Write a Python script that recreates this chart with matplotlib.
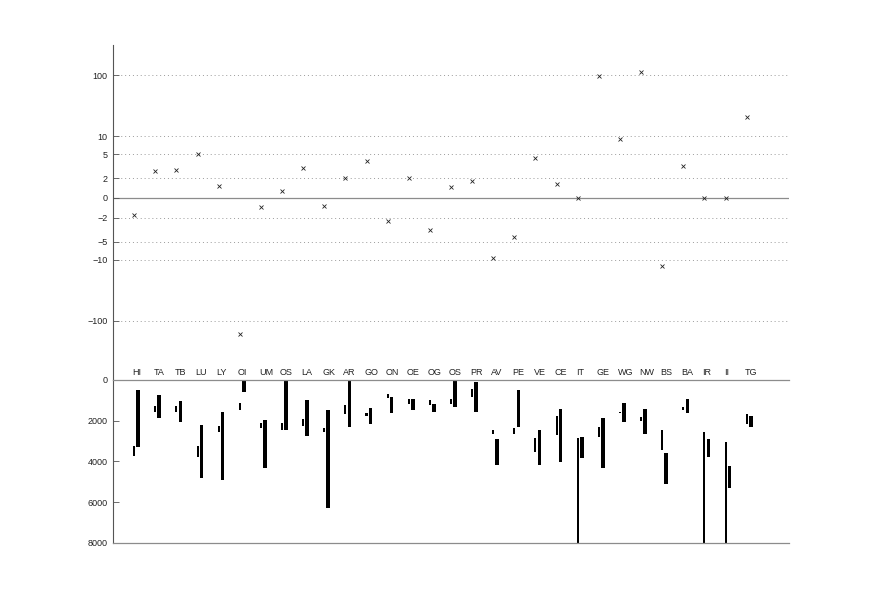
import matplotlib
matplotlib.use("Agg")
import matplotlib.pyplot as plt
import matplotlib.transforms as mtransforms
import numpy as np

plt.rcParams['font.family'] = ['Liberation Sans', 'DejaVu Sans']

labels = ["HI", "TA", "TB", "LU", "LY", "OI", "UM", "OS", "LA", "GK",
          "AR", "GO", "ON", "OE", "OG", "OS", "PR", "AV", "PE", "VE",
          "CE", "IT", "GE", "WG", "NW", "BS", "BA", "IR", "II", "TG"]

# top panel: one value per category (symlog scale)
change = [-1.78, 2.60, 2.77, 5.07, 1.50, -167.6, -1.34, 1.24, 2.99, -1.29,
          2.02, 3.85, -2.32, 2.05, -3.18, 1.46, 1.83, -9.17, -4.25, 4.41,
          1.59, 0.0, 97.4, 8.83, 113.0, -12.7, 3.18, 0.0, 0.0, 20.7]

# bottom panel: thin bar (start, end) and thick bar (start, end)
thin_lo = [3240, 1276, 1276, 3240, 2241, 1113, 2094, 2094, 1931, 2372,
           1227, 1636, 687, 949, 998, 949, 442, 2438, 2339, 2847,
           1751, 2847, 2290, 1554, 1800, 2438, 1342, 2536, 3043, 1685]
thin_hi = [3715, 1555, 1587, 3763, 2568, 1472, 2372, 2454, 2258, 2536,
           1669, 1751, 900, 1161, 1210, 1161, 818, 2650, 2650, 3550,
           2700, 8000, 2781, 1636, 1996, 3436, 1456, 8000, 8000, 2176]
thick_lo = [490, 721, 1031, 2209, 1554, 0, 1980, 0, 982, 1472,
            0, 1391, 851, 949, 1161, 0, 115, 2879, 507, 2470,
            1407, 2798, 1882, 1145, 1407, 3583, 933, 2912, 4221, 1751]
thick_hi = [3273, 1881, 2045, 4794, 4925, 605, 4303, 2454, 2732, 6266,
            2290, 2160, 1603, 1456, 1554, 1309, 1554, 4155, 2323, 4155,
            4008, 3812, 4335, 2078, 2667, 5121, 1603, 3796, 5317, 2290]

x = np.arange(1, len(labels) + 1)

fig = plt.figure(figsize=(8.72, 6.11), dpi=100)
ax1 = fig.add_axes([0.1296, 0.378, 0.7752, 0.5486])
ax2 = fig.add_axes([0.1296, 0.1113, 0.7752, 0.2668])

spine_col = '#555555'
light_col = '#8c8c8c'

# ---- top panel
ax1.set_yscale('symlog', linthresh=1, linscale=0.02)
yt = [-100, -10, -5, -2, 0, 2, 5, 10, 100]
for v in yt:
    if v == 0:
        ax1.axhline(0, color=light_col, lw=0.9, zorder=1)
    else:
        ax1.axhline(v, color='#9a9a9a', lw=0.7, ls=(0, (1, 3)), zorder=1)
ax1.plot(x, change, ls='none', marker='x', ms=3.2, mew=0.6, color='#222222', zorder=3)
ax1.set_ylim(-960, 320)
ax1.set_xlim(0, 32)
ax1.set_yticks(yt)
ax1.set_yticklabels([str(v).replace('-', '\u2212') for v in yt])
ax1.yaxis.set_minor_locator(matplotlib.ticker.NullLocator())
ax1.set_xticks([])
for s in ['top', 'right', 'bottom']:
    ax1.spines[s].set_visible(False)
ax1.spines['left'].set_color(spine_col)
ax1.spines['left'].set_linewidth(0.8)
ax1.tick_params(axis='y', direction='in', length=4, width=0.6, colors=spine_col,
                labelcolor='#222222', labelsize=6.5, pad=4)
ax1.patch.set_alpha(0)

# ---- bottom panel
w_thin = 0.095
w_thick = 0.17
ax2.bar(x, np.array(thin_hi) - np.array(thin_lo), bottom=thin_lo, width=w_thin,
        color='black', linewidth=0)
ax2.bar(x + 0.19, np.array(thick_hi) - np.array(thick_lo), bottom=thick_lo, width=w_thick,
        color='black', linewidth=0)
ax2.set_xlim(0, 32)
ax2.set_ylim(8000, 0)
ax2.set_yticks([0, 2000, 4000, 6000, 8000])
ax2.set_xticks([])
ax2.spines['right'].set_visible(False)
ax2.spines['left'].set_color(spine_col)
ax2.spines['left'].set_linewidth(0.8)
ax2.spines['top'].set_color(light_col)
ax2.spines['bottom'].set_color(light_col)
ax2.spines['top'].set_linewidth(0.9)
ax2.spines['bottom'].set_linewidth(0.9)
ax2.tick_params(axis='y', direction='in', length=4, width=0.6, colors=spine_col,
                labelcolor='#222222', labelsize=6.5, pad=4)

trans = mtransforms.blended_transform_factory(ax2.transData, ax2.transAxes)
for xi, lab in zip(x, labels):
    ax2.text(xi - 0.09, 1.02, lab, transform=trans, ha='left', va='bottom',
             fontsize=6.5, color='#222222')

fig.savefig("out.png", dpi=100)
